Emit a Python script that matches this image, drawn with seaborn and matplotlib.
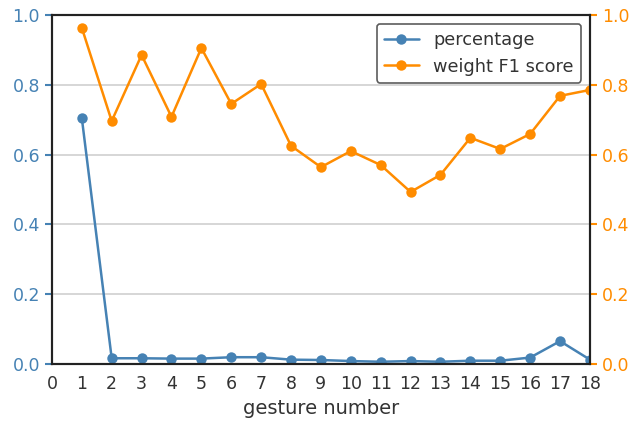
import numpy as np
import pandas as pd
import matplotlib
matplotlib.use('Agg')
import matplotlib.pyplot as plt
import seaborn as sns
from matplotlib.lines import Line2D

gesture = list(range(1, 19))
percentage = [0.705, 0.017, 0.017, 0.016, 0.016, 0.020, 0.020, 0.013, 0.012,
              0.009, 0.007, 0.009, 0.007, 0.010, 0.010, 0.019, 0.066, 0.013]
f1_score = [0.963, 0.696, 0.885, 0.708, 0.905, 0.745, 0.802, 0.625, 0.564,
            0.610, 0.570, 0.493, 0.542, 0.648, 0.616, 0.659, 0.768, 0.785]

blue = '#4682b4'
orange = '#ff8c00'

sns.set_style('white')
plt.rcParams['font.family'] = ['DejaVu Sans']

df = pd.DataFrame({'gesture': gesture, 'percentage': percentage, 'f1': f1_score})

fig = plt.figure(figsize=(6.33, 4.23), dpi=100)
ax = fig.add_axes([0.082, 0.139, 0.850, 0.826])
ax2 = ax.twinx()

sns.lineplot(data=df, x='gesture', y='percentage', ax=ax, color=blue,
             marker='o', markersize=7.5, markeredgewidth=0, linewidth=1.8)
sns.lineplot(data=df, x='gesture', y='f1', ax=ax2, color=orange,
             marker='o', markersize=7.5, markeredgewidth=0, linewidth=1.8)

ax.set_xlim(0, 18)
ax.set_ylim(0, 1.0)
ax2.set_ylim(0, 1.0)
ax.set_xticks(range(0, 19))
ax.set_yticks(np.arange(0, 1.01, 0.2))
ax2.set_yticks(np.arange(0, 1.01, 0.2))
ax.yaxis.grid(True, color='#d0d0d0', linewidth=1.2)
ax.set_axisbelow(True)

ax.set_xlabel('gesture number', fontsize=14, color='#333333')
ax.set_ylabel('')
ax2.set_ylabel('')

ax.tick_params(axis='x', labelsize=12.5, colors='#333333', length=0, pad=8)
ax.tick_params(axis='y', labelsize=12.5, colors=blue, length=5, width=1.5, left=True)
ax2.tick_params(axis='y', labelsize=12.5, colors=orange, length=5, width=1.5, right=True)

for a in (ax, ax2):
    for s in a.spines.values():
        s.set_color('#222222')
        s.set_linewidth(1.5)

handles = [Line2D([], [], color=blue, marker='o', markersize=7.5, markeredgewidth=0, linewidth=1.8),
           Line2D([], [], color=orange, marker='o', markersize=7.5, markeredgewidth=0, linewidth=1.8)]
leg = ax2.legend(handles, ['percentage', 'weight F1 score'], loc='upper right',
                 fontsize=12.8, frameon=True, fancybox=True, bbox_to_anchor=(1.0, 1.0))
leg.get_frame().set_edgecolor('#333333')
leg.get_frame().set_linewidth(1.2)
for t in leg.get_texts():
    t.set_color('#333333')

fig.savefig('out.png', dpi=100)
